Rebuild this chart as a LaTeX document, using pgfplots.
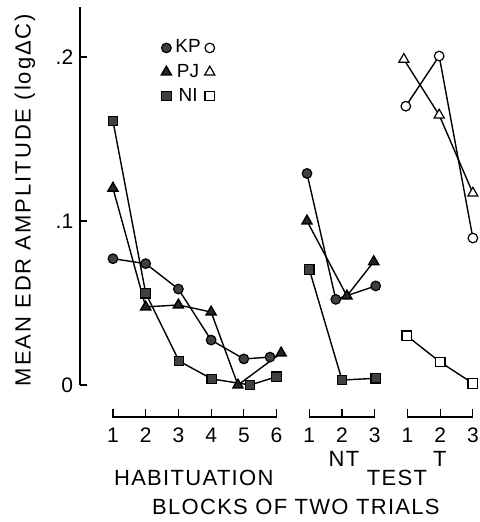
\documentclass[border=0pt]{standalone}
\usepackage{fontspec}
\setmainfont{Liberation Sans}
\newfontfamily\spaced[LetterSpace=6]{Liberation Sans}
\newfontfamily\yspaced[LetterSpace=9]{Liberation Sans}
\usepackage{pgfplots}
\pgfplotsset{compat=1.18}
\pgfplotsset{
  filledmark/.style={line width=0.7pt, black, mark options={solid, draw=black, fill=black!75, line width=0.6pt}},
  openmark/.style={line width=0.7pt, black, mark options={solid, draw=black, fill=white, line width=0.6pt}},
}
\begin{document}
\begin{tikzpicture}
\begin{axis}[
  x=16.36pt, y=820pt,
  xmin=0, xmax=12.2, ymin=0, ymax=0.2305,
  axis y line=left, axis x line=none,
  axis line style={-, line width=0.9pt},
  ytick={0,0.1,0.2}, yticklabels={0,.1,.2},
  tick align=inside, major tick length=3.5pt,
  ytick style={line width=0.7pt, black},
  yticklabel style={font=\fontsize{10.5}{12}\selectfont},
  clip=false,
  legend columns=2,
  legend style={at={(axis cs:2.467,0.2131)}, anchor=north west, draw=none, fill=none,
    inner sep=0pt, font=\fontsize{9.5}{11}\selectfont, row sep=0pt,
    nodes={inner sep=2pt}},
  legend image code/.code={\draw[#1] plot coordinates {(0pt,0pt)};},
]
% KP
\addplot[filledmark, mark=*, mark size=2.4pt] coordinates {(1,0.077) (2,0.074) (3,0.0585) (4,0.0274) (5,0.0159) (5.8,0.017)};
\addlegendentry{KP}
\addplot[openmark, mark=*, mark size=2.4pt] coordinates {(9.95,0.170) (10.97,0.2006) (12,0.0896)};
\addlegendentry{\hbox{}}
% PJ
\addplot[filledmark, mark=triangle*, mark size=2.9pt, mark options={fill=black!85}] coordinates {(1,0.120) (2,0.0476) (3,0.0488) (4,0.0445) (4.82,0.0) (6.14,0.0195)};
\addlegendentry{PJ}
\addplot[openmark, mark=triangle*, mark size=2.9pt] coordinates {(9.89,0.1986) (10.97,0.1646) (12,0.117)};
\addlegendentry{\hbox{}}
% NI
\addplot[filledmark, mark=square*, mark size=2.4pt] coordinates {(1,0.161) (2,0.056) (3.02,0.0146) (4.02,0.0037) (5.19,0.0) (6,0.005)};
\addlegendentry{NI}
\addplot[openmark, mark=square*, mark size=2.4pt] coordinates {(9.98,0.030) (11,0.014) (12,0.001)};
\addlegendentry{\hbox{}}
% NT
\addplot[filledmark, mark=*, mark size=2.4pt, forget plot] coordinates {(6.93,0.129) (7.81,0.0522) (9.03,0.0604)};
\addplot[filledmark, mark=triangle*, mark size=2.9pt, mark options={fill=black!85}, forget plot] coordinates {(6.93,0.100) (8.15,0.0543) (8.97,0.0752)};
\addplot[filledmark, mark=square*, mark size=2.4pt, forget plot] coordinates {(7,0.0705) (8,0.003) (9.03,0.0041)};

% brackets
\draw[line width=0.6pt] (axis cs:1,-0.0148) -- (axis cs:1,-0.0195) -- (axis cs:6,-0.0195) -- (axis cs:6,-0.0148);
\draw[line width=0.6pt] (axis cs:2,-0.0148) -- (axis cs:2,-0.0195);
\draw[line width=0.6pt] (axis cs:3,-0.0148) -- (axis cs:3,-0.0195);
\draw[line width=0.6pt] (axis cs:4,-0.0148) -- (axis cs:4,-0.0195);
\draw[line width=0.6pt] (axis cs:5,-0.0148) -- (axis cs:5,-0.0195);
\draw[line width=0.6pt] (axis cs:7,-0.0148) -- (axis cs:7,-0.0195) -- (axis cs:9,-0.0195) -- (axis cs:9,-0.0148);
\draw[line width=0.6pt] (axis cs:8,-0.0148) -- (axis cs:8,-0.0195);
\draw[line width=0.6pt] (axis cs:10,-0.0148) -- (axis cs:10,-0.0195) -- (axis cs:12,-0.0195) -- (axis cs:12,-0.0148);
\draw[line width=0.6pt] (axis cs:11,-0.0148) -- (axis cs:11,-0.0195);
% bracket labels
\node[font=\fontsize{10.5}{12}\selectfont] at (axis cs:1,-0.0305) {1};
\node[font=\fontsize{10.5}{12}\selectfont] at (axis cs:2,-0.0305) {2};
\node[font=\fontsize{10.5}{12}\selectfont] at (axis cs:3,-0.0305) {3};
\node[font=\fontsize{10.5}{12}\selectfont] at (axis cs:4,-0.0305) {4};
\node[font=\fontsize{10.5}{12}\selectfont] at (axis cs:5,-0.0305) {5};
\node[font=\fontsize{10.5}{12}\selectfont] at (axis cs:6,-0.0305) {6};
\node[font=\fontsize{10.5}{12}\selectfont] at (axis cs:7,-0.0305) {1};
\node[font=\fontsize{10.5}{12}\selectfont] at (axis cs:8,-0.0305) {2};
\node[font=\fontsize{10.5}{12}\selectfont] at (axis cs:9,-0.0305) {3};
\node[font=\fontsize{10.5}{12}\selectfont] at (axis cs:10,-0.0305) {1};
\node[font=\fontsize{10.5}{12}\selectfont] at (axis cs:11,-0.0305) {2};
\node[font=\fontsize{10.5}{12}\selectfont] at (axis cs:12,-0.0305) {3};
% group labels
\node[font=\fontsize{11}{13}\spaced] at (axis cs:3.47,-0.0567) {HABITUATION};
\node[font=\fontsize{11}{13}\spaced] at (axis cs:8.06,-0.0451) {NT};
\node[font=\fontsize{11}{13}\spaced] at (axis cs:9.68,-0.0567) {TEST};
\node[font=\fontsize{11}{13}\spaced] at (axis cs:10.99,-0.0451) {T};
\node[font=\fontsize{11}{13}\spaced] at (axis cs:6.59,-0.0745) {BLOCKS OF TWO TRIALS};
\node[font=\fontsize{11}{13}\yspaced, rotate=90] at (axis cs:-1.69,0.1128) {MEAN EDR AMPLITUDE (logΔC)};
\coordinate (bbll) at (axis cs:-2.4525,-0.08354);
\coordinate (bbur) at (axis cs:12.213,0.23476);
\end{axis}
\pgfresetboundingbox
\useasboundingbox (bbll) rectangle (bbur);
\end{tikzpicture}
\end{document}
